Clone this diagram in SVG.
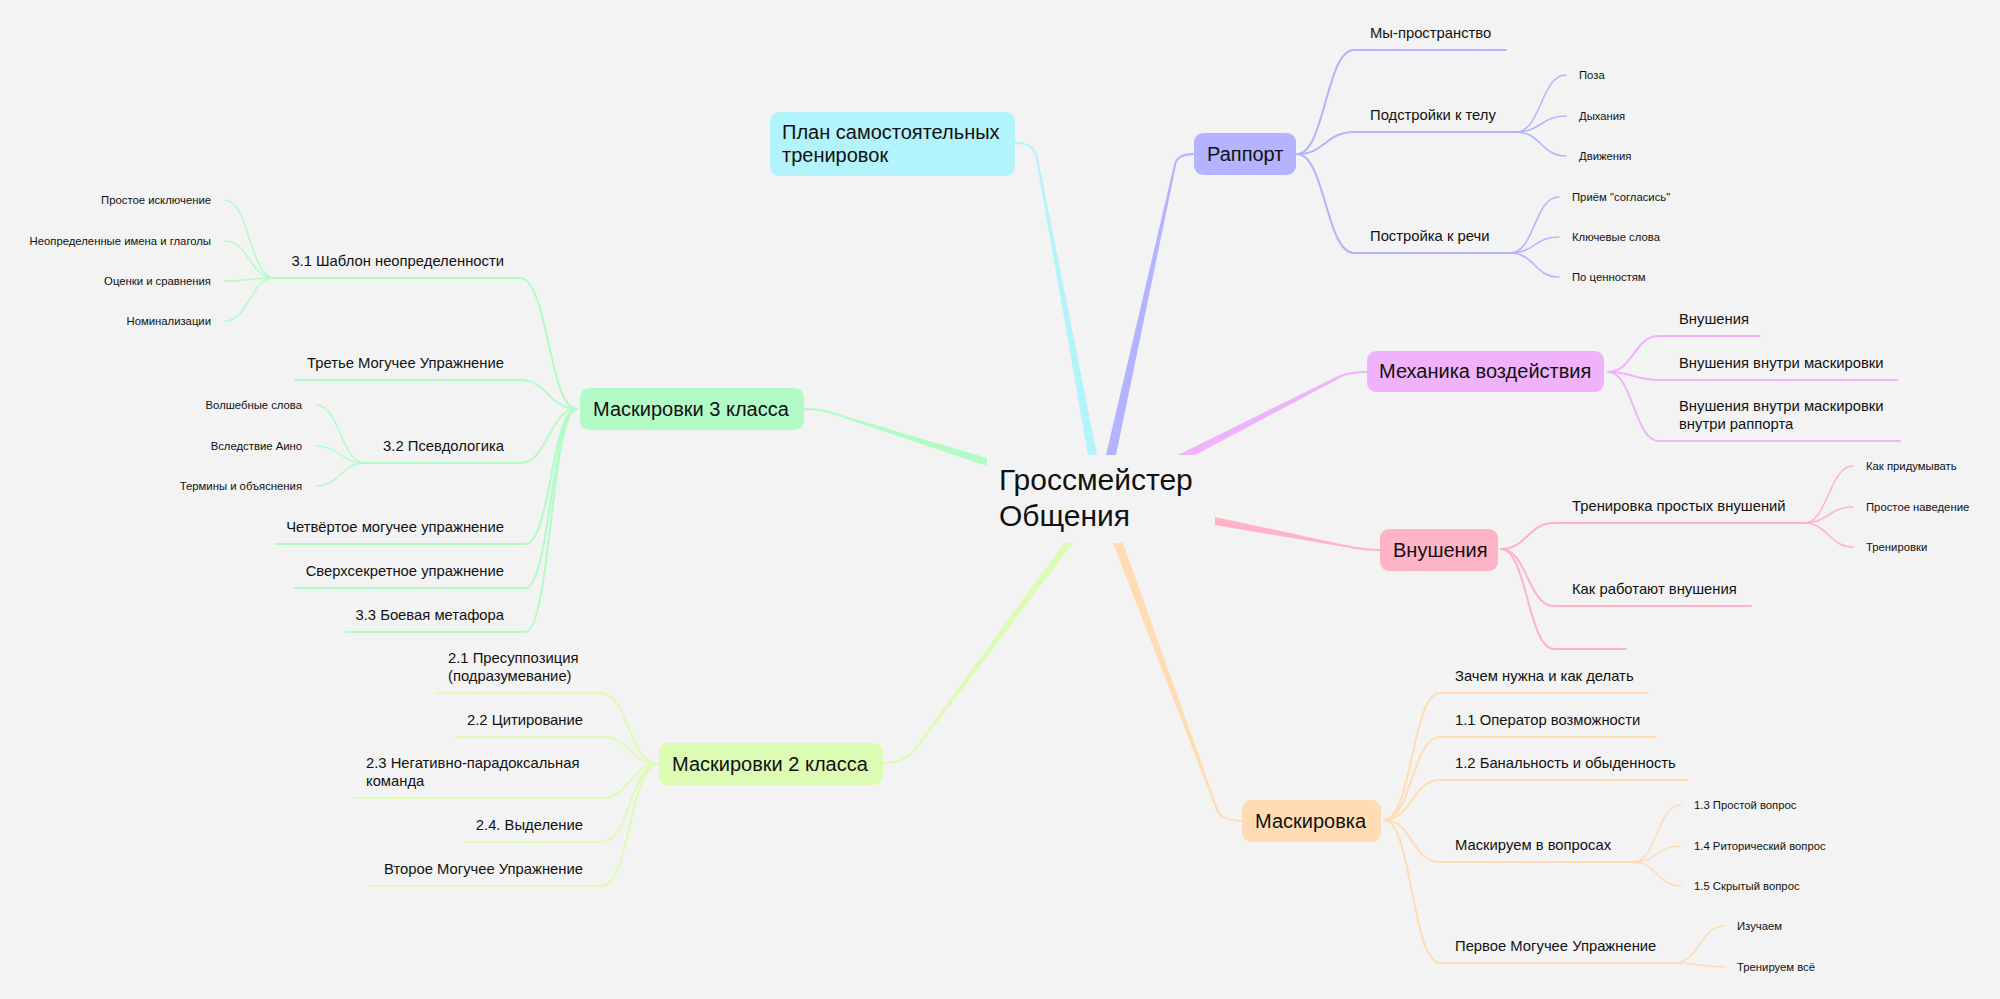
<svg xmlns="http://www.w3.org/2000/svg" width="2000" height="999" viewBox="0 0 2000 999">
<style>
text{font-family:"Liberation Sans",Arial,Helvetica,sans-serif;fill:#111}
.c{font-size:30px}
.n{font-size:20px}
.t{font-size:14.8px}
.l{font-size:11.3px}
.e{text-anchor:end}
.b{fill:none;stroke-width:2;stroke-linecap:round}
.lf{fill:none;stroke-width:1.5;stroke-linecap:round}
.cy{stroke:#b3f3fb}.cyf{fill:#b3f3fb}
.pu{stroke:#b3b3ff}.puf{fill:#b3b3ff}
.ma{stroke:#f0b3fb}.maf{fill:#f0b3fb}
.pk{stroke:#ffb3c6}.pkf{fill:#ffb3c6}
.or{stroke:#ffdcb3}.orf{fill:#ffdcb3}
.li{stroke:#dcfbb3}.lif{fill:#dcfbb3}
.gr{stroke:#b3fbc6}.grf{fill:#b3fbc6}
</style>
<rect width="2000" height="999" fill="#f3f3f3"/>
<g id="connectors">
  <!-- main branches -->
  <path class="b cy" d="M1015,143 C1030,143 1035,149 1037,158"/>
  <polygon class="cyf" points="1036,158 1038,158 1097,455 1088,455"/>
  <path class="b pu" d="M1194,154 C1182,154 1176,158 1175,165"/>
  <polygon class="puf" points="1174,165 1176,165 1116,455 1106,455"/>
  <path class="b ma" d="M1367,372 C1355,372 1348,373 1341,376"/>
  <polygon class="maf" points="1340,375 1342,377 1195,455 1178,455"/>
  <path class="b pk" d="M1345,546 C1360,549 1368,550 1380,550"/>
  <polygon class="pkf" points="1215,517 1345,545 1345,547 1215,525"/>
  <path class="b li" d="M883,763 C895,763 905,760 912,753"/>
  <polygon class="lif" points="911,753 913,754 1073,543 1064,543"/>
  <path class="b or" d="M1218,812 C1222,818 1230,821 1243,821"/>
  <polygon class="orf" points="1217,812 1219,812 1123,543 1113,543"/>
  <path class="b gr" d="M804,409 C815,409 825,410 835,414"/>
  <polygon class="grf" points="835,413 987,458 987,466 835,415"/>

  <!-- Раппорт -->
  <path class="b pu" d="M1297,154 C1325,154 1326,50 1354,50 H1506"/>
  <path class="b pu" d="M1297,154 C1325,154 1326,132 1354,132 H1516"/>
  <path class="b pu" d="M1297,154 C1325,154 1326,253 1354,253 H1510"/>
  <path class="lf pu" d="M1516,132 C1541,132 1541,75 1566,75"/>
  <path class="lf pu" d="M1516,132 C1541,132 1541,116 1566,116"/>
  <path class="lf pu" d="M1516,132 C1541,132 1541,156 1566,156"/>
  <path class="lf pu" d="M1510,253 C1535,253 1534,197 1559,197"/>
  <path class="lf pu" d="M1510,253 C1535,253 1534,237 1559,237"/>
  <path class="lf pu" d="M1510,253 C1535,253 1534,277 1559,277"/>

  <!-- Механика -->
  <path class="b ma" d="M1608,372 C1633,372 1634,336 1659,336 H1760"/>
  <path class="b ma" d="M1608,372 C1633,372 1634,380 1659,380 H1897"/>
  <path class="b ma" d="M1608,372 C1633,372 1634,441 1659,441 H1900"/>

  <!-- Внушения -->
  <path class="b pk" d="M1501,549 C1527,549 1528,523 1554,523 H1804"/>
  <path class="b pk" d="M1501,549 C1527,549 1528,606 1554,606 H1751"/>
  <path class="b pk" d="M1501,549 C1527,549 1528,649 1554,649 H1626"/>
  <path class="lf pk" d="M1804,523 C1828,523 1829,466 1853,466"/>
  <path class="lf pk" d="M1804,523 C1828,523 1829,507 1853,507"/>
  <path class="lf pk" d="M1804,523 C1828,523 1829,547 1853,547"/>

  <!-- Маскировка -->
  <path class="b or" d="M1384,820 C1412,820 1412,693 1440,693 H1648"/>
  <path class="b or" d="M1384,820 C1412,820 1412,737 1440,737 H1656"/>
  <path class="b or" d="M1384,820 C1412,820 1412,780 1440,780 H1687"/>
  <path class="b or" d="M1384,820 C1412,820 1412,862 1440,862 H1633"/>
  <path class="b or" d="M1384,820 C1412,820 1412,963 1440,963 H1674"/>
  <path class="lf or" d="M1633,862 C1657,862 1657,805 1681,805"/>
  <path class="lf or" d="M1633,862 C1657,862 1657,846 1681,846"/>
  <path class="lf or" d="M1633,862 C1657,862 1657,886 1681,886"/>
  <path class="lf or" d="M1674,963 C1700,963 1699,926 1725,926"/>
  <path class="lf or" d="M1674,963 C1700,963 1699,967 1725,967"/>

  <!-- Маскировки 2 класса -->
  <path class="b li" d="M658,764 C629,764 629,693 600,693 H437"/>
  <path class="b li" d="M658,764 C630,764 630,737 602,737 H456"/>
  <path class="b li" d="M658,764 C630,764 630,798 602,798 H355"/>
  <path class="b li" d="M658,764 C630,764 630,842 602,842 H466"/>
  <path class="b li" d="M658,764 C630,764 630,886 602,886 H371"/>

  <!-- Маскировки 3 класса -->
  <path class="b gr" d="M577,409 C549,409 548,278 520,278 H274"/>
  <path class="b gr" d="M577,409 C549,409 548,380 520,380 H295"/>
  <path class="b gr" d="M577,409 C549,409 548,463 520,463 H365"/>
  <path class="b gr" d="M577,409 C551,409 551,544 525,544 H276"/>
  <path class="b gr" d="M577,409 C551,409 551,588 525,588 H294"/>
  <path class="b gr" d="M577,409 C551,409 551,632 525,632 H346"/>
  <path class="lf gr" d="M274,278 C250,278 249,200 225,200"/>
  <path class="lf gr" d="M274,278 C250,278 249,241 225,241"/>
  <path class="lf gr" d="M274,278 C250,278 249,281 225,281"/>
  <path class="lf gr" d="M274,278 C250,278 249,321 225,321"/>
  <path class="lf gr" d="M365,463 C341,463 340,405 316,405"/>
  <path class="lf gr" d="M365,463 C341,463 340,446 316,446"/>
  <path class="lf gr" d="M365,463 C341,463 340,486 316,486"/>
</g>

<g id="root"><text class="c" x="999" y="490">Гроссмейстер</text><text class="c" x="999" y="526">Общения</text></g>

<g id="plan"><rect class="cyf" x="770" y="112" width="245" height="64" rx="9"/><text class="n" x="782" y="139">План самостоятельных</text><text class="n" x="782" y="162">тренировок</text></g>

<g id="rapport"><rect class="puf" x="1194" y="133" width="102" height="42" rx="9"/><text class="n" x="1207" y="161">Раппорт</text></g>
<g id="rapport-children">
  <text class="t" x="1370" y="38">Мы-пространство</text>
  <text class="t" x="1370" y="120">Подстройки к телу</text>
  <text class="l" x="1579" y="79">Поза</text>
  <text class="l" x="1579" y="120">Дыхания</text>
  <text class="l" x="1579" y="160">Движения</text>
  <text class="t" x="1370" y="241">Постройка к речи</text>
  <text class="l" x="1572" y="201">Приём "согласись"</text>
  <text class="l" x="1572" y="241">Ключевые слова</text>
  <text class="l" x="1572" y="281">По ценностям</text>
</g>

<g id="mechanika"><rect class="maf" x="1367" y="351" width="237" height="41" rx="9"/><text class="n" x="1379" y="378">Механика воздействия</text></g>
<g id="mechanika-children">
  <text class="t" x="1679" y="324">Внушения</text>
  <text class="t" x="1679" y="368">Внушения внутри маскировки</text>
  <text class="t" x="1679" y="411">Внушения внутри маскировки</text>
  <text class="t" x="1679" y="429">внутри раппорта</text>
</g>

<g id="vnusheniya"><rect class="pkf" x="1380" y="529" width="118" height="42" rx="9"/><text class="n" x="1393" y="557">Внушения</text></g>
<g id="vnusheniya-children">
  <text class="t" x="1572" y="511">Тренировка простых внушений</text>
  <text class="l" x="1866" y="470">Как придумывать</text>
  <text class="l" x="1866" y="511">Простое наведение</text>
  <text class="l" x="1866" y="551">Тренировки</text>
  <text class="t" x="1572" y="594">Как работают внушения</text>
</g>

<g id="maskirovka"><rect class="orf" x="1242" y="800" width="139" height="42" rx="9"/><text class="n" x="1255" y="828">Маскировка</text></g>
<g id="maskirovka-children">
  <text class="t" x="1455" y="681">Зачем нужна и как делать</text>
  <text class="t" x="1455" y="725">1.1 Оператор возможности</text>
  <text class="t" x="1455" y="768">1.2 Банальность и обыденность</text>
  <text class="t" x="1455" y="850">Маскируем в вопросах</text>
  <text class="l" x="1694" y="809">1.3 Простой вопрос</text>
  <text class="l" x="1694" y="850">1.4 Риторический вопрос</text>
  <text class="l" x="1694" y="890">1.5 Скрытый вопрос</text>
  <text class="t" x="1455" y="951">Первое Могучее Упражнение</text>
  <text class="l" x="1737" y="930">Изучаем</text>
  <text class="l" x="1737" y="971">Тренируем всё</text>
</g>

<g id="mask2"><rect class="lif" x="659" y="743" width="224" height="42" rx="9"/><text class="n" x="672" y="771">Маскировки 2 класса</text></g>
<g id="mask2-children">
  <text class="t" x="448" y="663">2.1 Пресуппозиция</text>
  <text class="t" x="448" y="681">(подразумевание)</text>
  <text class="t e" x="583" y="725">2.2 Цитирование</text>
  <text class="t" x="366" y="768">2.3 Негативно-парадоксальная</text>
  <text class="t" x="366" y="786">команда</text>
  <text class="t e" x="583" y="830">2.4. Выделение</text>
  <text class="t e" x="583" y="874">Второе Могучее Упражнение</text>
</g>

<g id="mask3"><rect class="grf" x="580" y="388" width="224" height="42" rx="9"/><text class="n" x="593" y="416">Маскировки 3 класса</text></g>
<g id="mask3-children">
  <text class="t e" x="504" y="266">3.1 Шаблон неопределенности</text>
  <text class="l e" x="211" y="204">Простое исключение</text>
  <text class="l e" x="211" y="245">Неопределенные имена и глаголы</text>
  <text class="l e" x="211" y="285">Оценки и сравнения</text>
  <text class="l e" x="211" y="325">Номинализации</text>
  <text class="t e" x="504" y="368">Третье Могучее Упражнение</text>
  <text class="t e" x="504" y="451">3.2 Псевдологика</text>
  <text class="l e" x="302" y="409">Волшебные слова</text>
  <text class="l e" x="302" y="450">Вследствие Аино</text>
  <text class="l e" x="302" y="490">Термины и объяснения</text>
  <text class="t e" x="504" y="532">Четвёртое могучее упражнение</text>
  <text class="t e" x="504" y="576">Сверхсекретное упражнение</text>
  <text class="t e" x="504" y="620">3.3 Боевая метафора</text>
</g>
</svg>
